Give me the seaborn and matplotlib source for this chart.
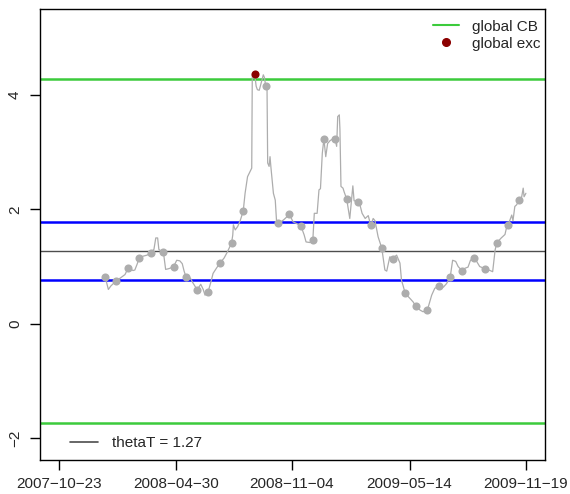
import seaborn as sns
import matplotlib.pyplot as plt
from matplotlib.lines import Line2D
import numpy as np
import pandas as pd

start = pd.Timestamp('2007-10-23')

# gray rolling series: days since 2007-10-23 and value
line_days = [75, 80, 84, 92.5, 97, 102, 107, 112.5, 120, 123, 127, 130, 136, 143, 149,
             154, 157, 160, 162, 168, 170, 173, 177, 180, 186, 191, 196, 200, 203, 206,
             213, 217, 221, 224, 230, 234, 237, 242, 247, 250, 256, 262, 268, 273, 280,
             282, 283, 286, 290, 294, 299, 302, 306, 312.8, 313.7, 317.6, 320, 322, 325,
             328, 331.6, 333.5, 335.5, 337.6, 338.7, 341, 342.5, 344, 348, 351, 353, 356,
             360, 365, 369, 374, 380, 386, 393, 398, 401, 407, 412, 414.4, 419, 422, 424.4,
             427.4, 430, 433, 436, 440, 443, 448, 450.7, 452.4, 455, 456, 457.7, 461, 463,
             467, 472, 477, 479, 485, 488, 492, 497, 502, 506, 510, 513, 518, 524, 529,
             532, 537, 542, 548, 553.5, 556, 559, 562, 570, 575, 579, 586, 591, 598, 605,
             610, 617, 624, 629, 635, 639, 644, 648, 655, 659, 664, 668, 673, 678, 683,
             692, 700, 704, 708, 711, 718, 724, 727.6, 729, 732, 735, 737, 740, 743, 747,
             751, 753.6, 755, 758]
line_vals = [0.81, 0.60, 0.66, 0.75, 0.78, 0.82, 0.86, 0.98, 0.93, 0.94, 1.05, 1.15, 1.18, 1.20, 1.24,
             1.30, 1.50, 1.50, 1.30, 1.25, 1.20, 0.95, 0.96, 0.97, 1.00, 1.11, 1.10, 1.05, 0.92, 0.82,
             0.80, 0.72, 0.65, 0.59, 0.69, 0.60, 0.50, 0.56, 0.75, 0.88, 0.98, 1.07, 1.15, 1.25, 1.41,
             1.55, 1.73, 1.64, 1.70, 1.80, 1.97, 2.28, 2.57, 2.72, 4.35, 4.36, 4.15, 4.09, 4.08,
             4.20, 4.35, 4.30, 4.15, 4.15, 2.81, 2.75, 2.92, 2.73, 2.28, 2.16, 1.81, 1.76,
             1.78, 1.82, 1.86, 1.91, 1.78, 1.75, 1.70, 1.55, 1.43, 1.42, 1.46, 1.93, 1.93, 2.34, 2.36,
             2.98, 3.23, 2.92, 3.15, 3.20, 3.22, 3.23, 3.10, 3.62, 3.65, 3.40, 2.40, 2.37, 2.30,
             2.18, 1.84, 2.41, 2.15, 2.13, 2.10, 1.93, 1.84, 1.89, 1.72, 1.84, 1.80, 1.52, 1.32, 0.94,
             0.92, 1.17, 1.14, 1.20, 1.06, 0.76, 0.65, 0.53, 0.44, 0.38, 0.31, 0.24, 0.21, 0.24, 0.50,
             0.62, 0.66, 0.64, 0.70, 0.81, 1.11, 1.09, 1.00, 0.92, 0.97, 0.99, 1.11, 1.15, 1.09, 1.00,
             0.96, 0.93, 0.91, 1.29, 1.42, 1.50, 1.56, 1.73, 1.73, 1.81, 1.90, 1.80, 2.05, 2.08, 2.16,
             2.21, 2.37, 2.22, 2.28]

# sampled points on the series
dot_days = [75, 92.5, 112.5, 130, 149, 168, 186, 206, 224, 242, 262, 280, 299, 336, 356, 374,
            393, 412, 430, 448, 467, 485, 506, 524, 542, 562, 579, 598, 617, 635, 655, 673,
            692, 711, 729, 747]
dot_vals = [0.81, 0.75, 0.98, 1.15, 1.24, 1.25, 1.00, 0.82, 0.59, 0.56, 1.07, 1.41, 1.97, 4.15,
            1.76, 1.91, 1.70, 1.46, 3.23, 3.23, 2.18, 2.13, 1.72, 1.32, 1.14, 0.53, 0.31, 0.24,
            0.66, 0.81, 0.92, 1.15, 0.96, 1.42, 1.73, 2.16]

exc_days = [317.6]
exc_vals = [4.36]

thetaT = 1.27
cb_band = [-1.74, 4.28]
inner_band = [0.77, 1.77]

tick_labels = ['2007-10-23', '2008-04-30', '2008-11-04', '2009-05-14', '2009-11-19']

line_df = pd.DataFrame({'date': start + pd.to_timedelta(line_days, unit='D'), 'val': line_vals})
dot_df = pd.DataFrame({'date': start + pd.to_timedelta(dot_days, unit='D'), 'val': dot_vals})
exc_df = pd.DataFrame({'date': start + pd.to_timedelta(exc_days, unit='D'), 'val': exc_vals})

sns.set_style('white')
plt.rcParams['font.family'] = ['Liberation Sans', 'DejaVu Sans']
plt.rcParams['font.size'] = 11

fig = plt.figure(figsize=(5.7, 4.94), dpi=100)
ax = fig.add_axes([40 / 570, 1 - 460 / 494, 505 / 570, 451 / 494])

for v in cb_band:
    ax.axhline(v, color='#3CCB3C', lw=1.8, zorder=2)
for v in inner_band:
    ax.axhline(v, color='#0000FF', lw=1.8, zorder=2)
ax.axhline(thetaT, color='#4D4D4D', lw=1.0, zorder=2)

sns.lineplot(x='date', y='val', data=line_df, color='#ADADAD', lw=0.9, ax=ax, zorder=3)
sns.scatterplot(x='date', y='val', data=dot_df, color='#ADADAD', s=34, linewidth=0, ax=ax, zorder=4)
sns.scatterplot(x='date', y='val', data=exc_df, color='#8B0000', s=34, linewidth=0, ax=ax, zorder=5)

ax.set_xlim(start - pd.Timedelta(days=31), pd.Timestamp('2009-11-19') + pd.Timedelta(days=31))
ax.set_ylim(-2.38, 5.5)
ax.set_xticks(pd.to_datetime(tick_labels))
ax.set_xticklabels([t.replace('-', '\u2212') for t in tick_labels])
ax.set_yticks([-2, 0, 2, 4])
ax.set_yticklabels(['\u22122', '0', '2', '4'], rotation=90, va='center')
ax.tick_params(direction='out', length=7, width=1, color='black', labelsize=11, bottom=True, left=True)
ax.tick_params(axis='x', pad=5)
ax.tick_params(axis='y', pad=6)
ax.set_xlabel('')
ax.set_ylabel('')
for sp in ax.spines.values():
    sp.set_color('black')
    sp.set_linewidth(1)

top_handles = [Line2D([], [], color='#3CCB3C', lw=1.5),
               Line2D([], [], color='#8B0000', marker='o', ls='', markersize=5.5)]
leg1 = ax.legend(top_handles, ['global CB', 'global exc'], loc='upper right', frameon=False,
                 handlelength=1.7, handletextpad=0.9, labelspacing=0.2,
                 bbox_to_anchor=(1.013, 1.0), borderaxespad=0.3, fontsize=11)
ax.add_artist(leg1)
ax.legend([Line2D([], [], color='#4D4D4D', lw=1.2)], ['thetaT = 1.27'], loc='lower left',
          frameon=False, handlelength=1.8, handletextpad=0.9, borderaxespad=0.6,
          bbox_to_anchor=(0.03, -0.012), fontsize=11)

fig.savefig('out.png', dpi=100)
